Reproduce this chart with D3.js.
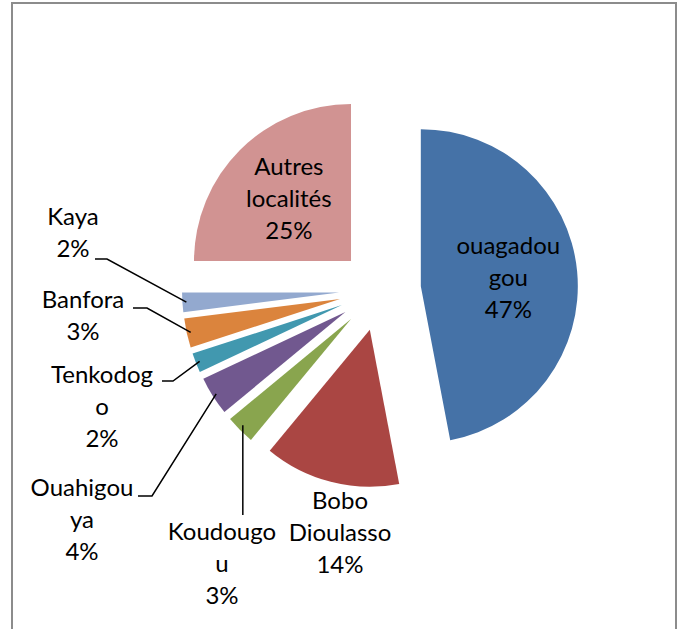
<!DOCTYPE html>
<html>
<head>
<meta charset="utf-8">
<script src="https://cdn.jsdelivr.net/npm/d3@7"></script>
<style>
    body { margin: 0; background: #fff; }
    .label { font-family: Lato, "Noto Sans", sans-serif; font-size: 24px; fill: #000; }
    .leader { stroke: #000; stroke-width: 1.5; fill: none; }
    .frame { stroke: #8c8c8c; stroke-width: 2; fill: none; }
</style>
</head>
<body>
<div id="chart"></div>
<script>
    // Data (percent of total).
const categories = ["ouagadougou", "Bobo Dioulasso", "Koudougou", "Ouahigouya",
    "Tenkodogo", "Banfora", "Kaya", "Autres localités"];
const values = [47, 14, 3, 4, 2, 3, 2, 25];

    // How Excel wrapped each category name in its data label.
const labelLines = [
    ["ouagadou", "gou"], ["Bobo", "Dioulasso"], ["Koudougo", "u"], ["Ouahigou", "ya"],
    ["Tenkodog", "o"], ["Banfora"], ["Kaya"], ["Autres", "localités"]
];

const colors = ["#4572A7", "#AA4643", "#89A54E", "#71588F", "#4198AF", "#DB843D", "#93A9CF", "#D19392"];

    // Layout of the labels that were dragged outside the pie (first baseline, centre x).
    // leader: start of the horizontal stub next to the label, or a vertical drop line.
const outsideLabels = {
    "Bobo Dioulasso": { x: 340, y: 509 },
    "Koudougou": { x: 222, y: 540, leader: { x: 239, y: 515, vertical: true } },
    "Ouahigouya": { x: 82, y: 496, leader: { x: 138, y: 496, stub: 14 } },
    "Tenkodogo": { x: 102, y: 383, leader: { x: 162, y: 381, stub: 11 } },
    "Banfora": { x: 83, y: 308, leader: { x: 133, y: 308, stub: 14 } },
    "Kaya": { x: 73, y: 225, leader: { x: 95, y: 259, stub: 12 } }
};

const width = 685;
const height = 629;
const center = { x: 380, y: 290 };
const radius = 157;
const explode = 41;
const lineHeight = 32;

const svg = d3.select("#chart")
    .append("svg")
    .attr("width", width)
    .attr("height", height);

    // Chart area border, its bottom edge lies below the picture.
svg.append("rect")
    .attr("class", "frame")
    .attr("x", 12)
    .attr("y", 3)
    .attr("width", 664)
    .attr("height", height + 10);

const data = categories.map((c, i) => ({ name: c, value: values[i], lines: labelLines[i], color: colors[i] }));
const total = d3.sum(values);
const pct = d3.format(".0%");

const pie = d3.pie()
    .sort(null)
    .value(d => d.value)
    .startAngle(0)
    .endAngle(2 * Math.PI);

const arcs = pie(data);
const arc = d3.arc().innerRadius(0).outerRadius(radius);

    // Direction of the middle of a slice, 0 rad at 12 o'clock, clockwise.
const dir = d => {
    const a = (d.startAngle + d.endAngle) / 2;
    return [Math.sin(a), -Math.cos(a)];
};

const g = svg.append("g")
    .attr("transform", `translate(${center.x}, ${center.y})`);

    // Every slice is pulled out from the centre.
g.selectAll(".slice")
    .data(arcs)
    .join("path")
    .attr("class", "slice")
    .attr("d", arc)
    .attr("fill", d => d.data.color)
    .attr("transform", d => {
        const [dx, dy] = dir(d);
        return `translate(${dx * explode}, ${dy * explode})`;
    });

    // Leader lines from the outside labels to the slice rims.
arcs.forEach(d => {
    const spot = outsideLabels[d.data.name];
    if (!spot || !spot.leader) return;
    const [dx, dy] = dir(d);
    const r = explode + radius - 4;
    const end = [center.x + dx * r, center.y + dy * r];
    const L = spot.leader;
    let pts;
    if (L.vertical) {
        pts = [[end[0], L.y], [end[0], end[1] - 2]];
    } else {
        pts = [[L.x, L.y], [L.x + L.stub, L.y], end];
    }
    svg.append("path")
        .attr("class", "leader")
        .attr("d", d3.line()(pts));
});

    // Data labels: category name and percentage.
arcs.forEach(d => {
    const lines = d.data.lines.concat([pct(d.data.value / total)]);
    const spot = outsideLabels[d.data.name];
    let x, y0;
    if (spot) {
        x = spot.x;
        y0 = spot.y;
    } else {
            // Inside labels sit on the slice centroid.
        const [dx, dy] = dir(d);
        const r = explode + radius * 0.56;
        x = center.x + dx * r;
        const midY = center.y + dy * r;
        y0 = midY + 8 - (lines.length - 1) / 2 * lineHeight;
    }
    const t = svg.append("text")
        .attr("class", "label")
        .attr("text-anchor", "middle");
    lines.forEach((s, i) => {
        t.append("tspan")
            .attr("x", x)
            .attr("y", y0 + i * lineHeight)
            .text(s);
    });
});
</script>
</body>
</html>
